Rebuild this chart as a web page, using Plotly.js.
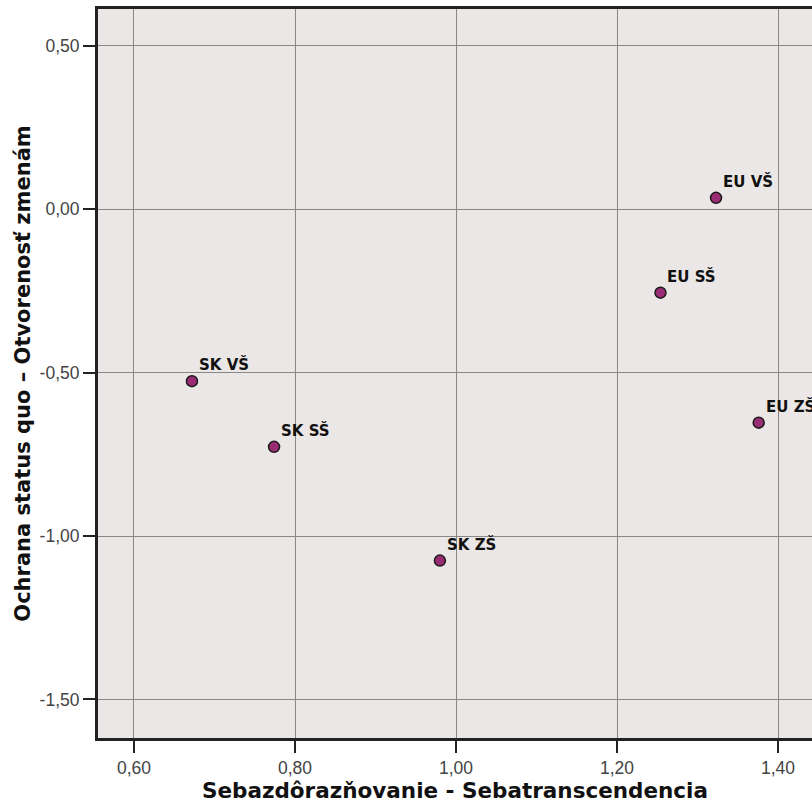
<!DOCTYPE html>
<html>
<head>
<meta charset="utf-8">
<script src="https://cdn.plot.ly/plotly-3.0.1.min.js"></script>
<style>html,body{margin:0;padding:0;background:#fff;}</style>
</head>
<body>
<div id="chart" style="width:812px;height:806px;"></div>
<script>
const labels = ["SK VŠ", "SK SŠ", "SK ZŠ", "EU VŠ", "EU SŠ", "EU ZŠ"];
const xValues = [0.672, 0.774, 0.980, 1.323, 1.254, 1.376];
const yValues = [-0.526, -0.727, -1.075, 0.035, -0.255, -0.653];
const xTickVals = [0.6, 0.8, 1.0, 1.2, 1.4];
const xTickText = ["0,60", "0,80", "1,00", "1,20", "1,40"];
const yTickVals = [0.5, 0.0, -0.5, -1.0, -1.5];
const yTickText = ["0,50", "0,00", "-0,50", "-1,00", "-1,50"];
const xTitle = "Sebazdôrazňovanie - Sebatranscendencia";
const yTitle = "Ochrana status quo – Otvorenosť zmenám";

const trace = {
  type: "scatter",
  mode: "markers",
  x: xValues,
  y: yValues,
  text: labels,
  hoverinfo: "text",
  marker: {size: 11, color: "#9a2c74", line: {color: "#1a1a1a", width: 1.5}},
  showlegend: false
};

const annotations = labels.map((t, i) => ({
  x: xValues[i], y: yValues[i], xref: "x", yref: "y",
  text: t, showarrow: false, xanchor: "left", yanchor: "bottom",
  xshift: 5, yshift: 5,
  font: {family: "DejaVu Sans", size: 15, color: "#111", weight: "bold"}
}));

const axisCommon = {
  showline: true, linewidth: 3, linecolor: "#222222",
  ticks: "outside", ticklen: 12, tickwidth: 2, tickcolor: "#222222",
  showgrid: true, gridcolor: "#8a8787", gridwidth: 1,
  zeroline: false,
  tickfont: {family: "Liberation Sans", size: 17.5, color: "#444"},
  tickmode: "array"
};

const layout = {
  width: 812, height: 806,
  margin: {l: 98, r: 0, t: 9, b: 68},
  paper_bgcolor: "#ffffff",
  plot_bgcolor: "#ebe7e6",
  separators: ",.",
  xaxis: Object.assign({}, axisCommon, {
    range: [0.5553, 1.4422],
    tickvals: xTickVals, ticktext: xTickText,
    mirror: true,
    title: {text: xTitle, standoff: 4, font: {family: "DejaVu Sans", size: 21.5, color: "#111", weight: "bold"}}
  }),
  yaxis: Object.assign({}, axisCommon, {
    range: [-1.618, 0.613],
    tickvals: yTickVals, ticktext: yTickText,
    title: {text: yTitle, standoff: 4, font: {family: "DejaVu Sans", size: 21, color: "#111", weight: "bold"}}
  }),
  annotations: annotations
};

Plotly.newPlot("chart", [trace], layout, {displayModeBar: false, staticPlot: true});
</script>
</body>
</html>
